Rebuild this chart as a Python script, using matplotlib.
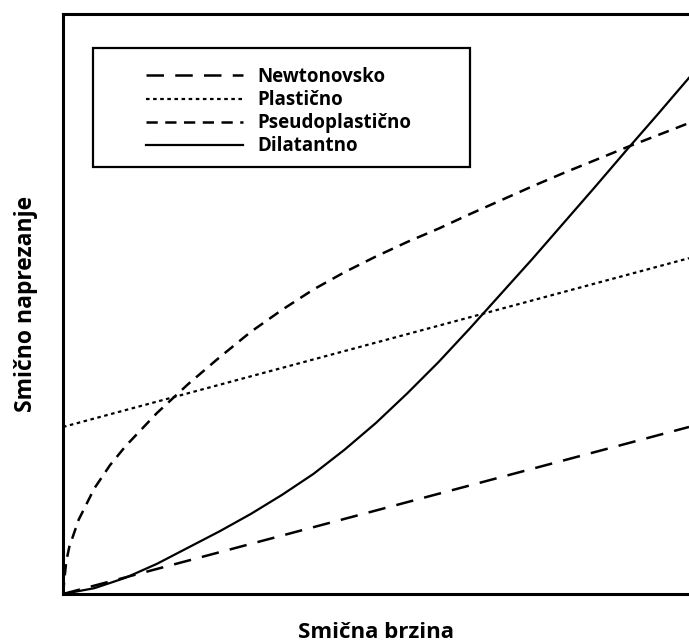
import matplotlib.pyplot as plt
from matplotlib.patches import Rectangle

plt.rcParams['font.family'] = ['Open Sans', 'DejaVu Sans']

# values (arbitrary units, 0..10)
x_newton = [0, 10]
y_newton = [0, 2.88]

x_plastic = [0, 10]
y_plastic = [2.88, 5.79]

x_pseudo = [0, 0.05, 0.1, 0.25, 0.5, 0.75, 1, 1.5, 2, 2.5, 3, 3.5, 4, 4.5, 5, 5.5,
            6, 6.5, 7, 7.5, 8, 8.5, 9, 9.5, 10]
y_pseudo = [0, 0.55, 0.81, 1.28, 1.82, 2.22, 2.55, 3.12, 3.62, 4.08, 4.52, 4.90, 5.25,
            5.55, 5.82, 6.07, 6.30, 6.55, 6.79, 7.03, 7.26, 7.48, 7.70, 7.91, 8.12]

x_dilat = [0, 0.5, 1, 1.5, 2, 2.5, 3, 3.5, 4, 4.5, 5, 5.5, 6, 6.5, 7, 7.5, 8, 8.5, 9, 9.5, 10]
y_dilat = [0, 0.10, 0.28, 0.52, 0.80, 1.08, 1.38, 1.71, 2.07, 2.49, 2.95, 3.46, 4.00,
           4.58, 5.18, 5.78, 6.40, 7.02, 7.65, 8.27, 8.90]

labels = ['Newtonovsko', 'Plastično', 'Pseudoplastično', 'Dilatantno']

fig = plt.figure(figsize=(6.89, 6.44), dpi=100)
ax = fig.add_axes([63/689, 50/644, 626/689, 580/644])

l1, = ax.plot(x_newton, y_newton, color='black', lw=1.8, dashes=(7, 4.5))
l2, = ax.plot(x_plastic, y_plastic, color='black', lw=1.6, dashes=(1.6, 1.6))
l3, = ax.plot(x_pseudo, y_pseudo, color='black', lw=1.8, dashes=(4.5, 3))
l4, = ax.plot(x_dilat, y_dilat, color='black', lw=1.6)

ax.set_xlim(0, 10)
ax.set_ylim(0, 10)
ax.set_xticks([])
ax.set_yticks([])
for s in ['left', 'top', 'bottom']:
    ax.spines[s].set_linewidth(2.2)
ax.spines['right'].set_visible(False)

ax.set_xlabel('Smična brzina', fontsize=16, fontweight='bold', labelpad=20)
ax.set_ylabel('Smično naprezanje', fontsize=16.5, fontweight='bold', labelpad=18)

ax.add_patch(Rectangle((0.048, 0.736), 0.602, 0.205, transform=ax.transAxes,
                       fill=False, lw=1.6, edgecolor='black', zorder=5))
ax.legend([l1, l2, l3, l4], labels, loc='upper left', bbox_to_anchor=(0.117, 0.925),
          frameon=False, borderpad=0, handlelength=5.2, handletextpad=0.75,
          labelspacing=0.17, prop={'size': 13.5, 'weight': 'bold'})

fig.savefig('out.png', dpi=100)
